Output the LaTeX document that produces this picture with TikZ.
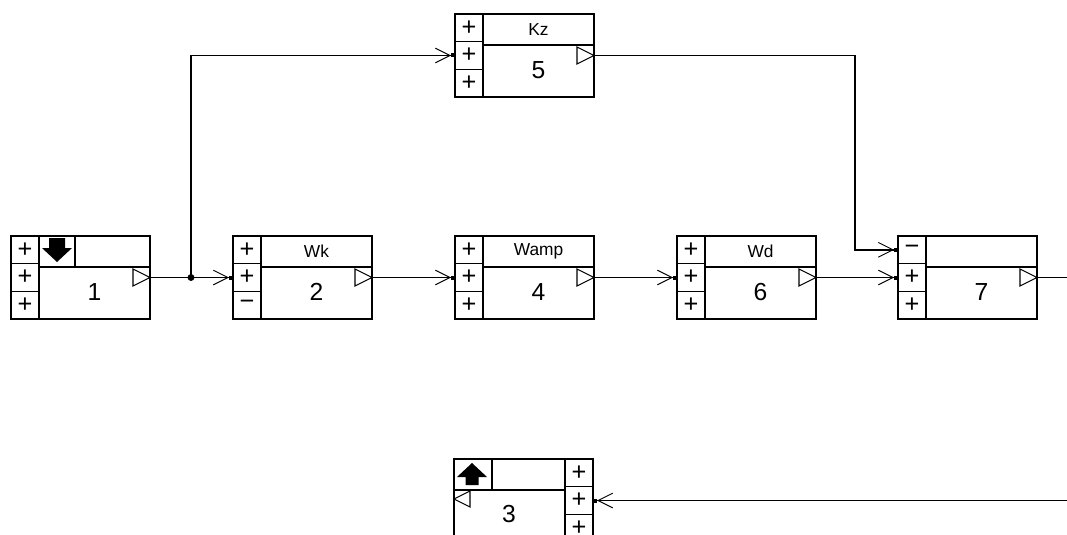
\documentclass[tikz,border=0pt]{standalone}
\usepackage{fontspec}
\setmainfont{Liberation Sans}
\usetikzlibrary{arrows.meta}

% block: name, left, top, header, number, three port signs
\newcommand{\blk}[8]{%
	\begin{scope}[shift={(#2,#3)}]
		\draw (0,0) rectangle (139,83);
		\draw (28,0) -- (28,83) (0,27.7) -- (28,27.7) (0,55.3) -- (28,55.3) (28,31) -- (139,31);
		\draw[line width=0.8pt] (139,41.5) -- (122,33) -- (122,50) -- cycle;
		\node[hdr] (#1-h) at (83.5,15.5) {#4};
		\node[num] (#1) at (83.5,56) {#5};
		\node[sgn] (#1-s1) at (14,13.8) {#6};
		\node[sgn] (#1-s2) at (14,41.5) {#7};
		\node[sgn] (#1-s3) at (14,69.2) {#8};
		\coordinate (#1-i1) at (0,13.8);
		\coordinate (#1-i2) at (0,41.5);
		\coordinate (#1-o) at (139,41.5);
	\end{scope}}

\begin{document}
\begin{tikzpicture}[x=0.75pt, y=-0.75pt, line width=1.1pt,
	hdr/.style={font=\fontsize{13}{13}\selectfont},
	num/.style={font=\fontsize{18.5}{18.5}\selectfont},
	sgn/.style={font=\fontsize{19}{19}\selectfont, inner sep=0pt},
	conn/.style={-{Straight Barb[length=11pt,width=11pt,line width=0.7pt] Square[length=3pt,width=3pt]}}]
	\clip (0,0) rectangle (1067,535);
	\blk{b1}{11}{236}{}{1}{+}{+}{+}
	\blk{b2}{233}{236}{Wk}{2}{+}{+}{−}
	\blk{b4}{455}{236}{Wamp}{4}{+}{+}{+}
	\blk{b6}{677}{236}{Wd}{6}{+}{+}{+}
	\blk{b7}{898}{236}{}{7}{−}{+}{+}
	\blk{b5}{455}{14}{Kz}{5}{+}{+}{+}
	% source icon of block 1
	\draw (75,236) -- (75,267);
	\fill (49,238) -- (65,238) -- (65,248) -- (72,248) -- (57,262) -- (42,248) -- (49,248) -- cycle;
	% block 3, ports on the right
	\begin{scope}[shift={(454,459)}]
		\draw (0,0) rectangle (139,83);
		\draw (111,0) -- (111,83) (111,27.7) -- (139,27.7) (111,55.3) -- (139,55.3) (0,31) -- (111,31) (38,0) -- (38,31);
		\draw[line width=0.8pt] (0,40) -- (16,32) -- (16,48) -- cycle;
		\fill (18,4) -- (33,18) -- (24.5,18) -- (24.5,26) -- (11.5,26) -- (11.5,18) -- (3,18) -- cycle;
		\node[num] (b3) at (55,55.5) {3};
		\node[sgn] (b3-s1) at (125,13.8) {+};
		\node[sgn] (b3-s2) at (125,41.5) {+};
		\node[sgn] (b3-s3) at (125,69.2) {+};
		\coordinate (b3-i2) at (139,41.5);
	\end{scope}
	\coordinate (j) at (191,277.5);
	\coordinate (k) at (855,249.8);
	\coordinate (e7) at (1067,277.5);
	\coordinate (e3) at (1067,500.5);
	\draw (b1-o) -- (j);
	\draw[conn] (j) -- (b2-i2);
	\draw[conn] (j) |- (b5-i2);
	\fill (j) circle (2.6pt);
	\draw[conn] (b2-o) -- (b4-i2);
	\draw[conn] (b4-o) -- (b6-i2);
	\draw[conn] (b6-o) -- (b7-i2);
	\draw[conn] (b5-o) -| (k) -- (b7-i1);
	\draw (b7-o) -- (e7);
	\draw[conn] (e3) -- (b3-i2);
\end{tikzpicture}
\end{document}
